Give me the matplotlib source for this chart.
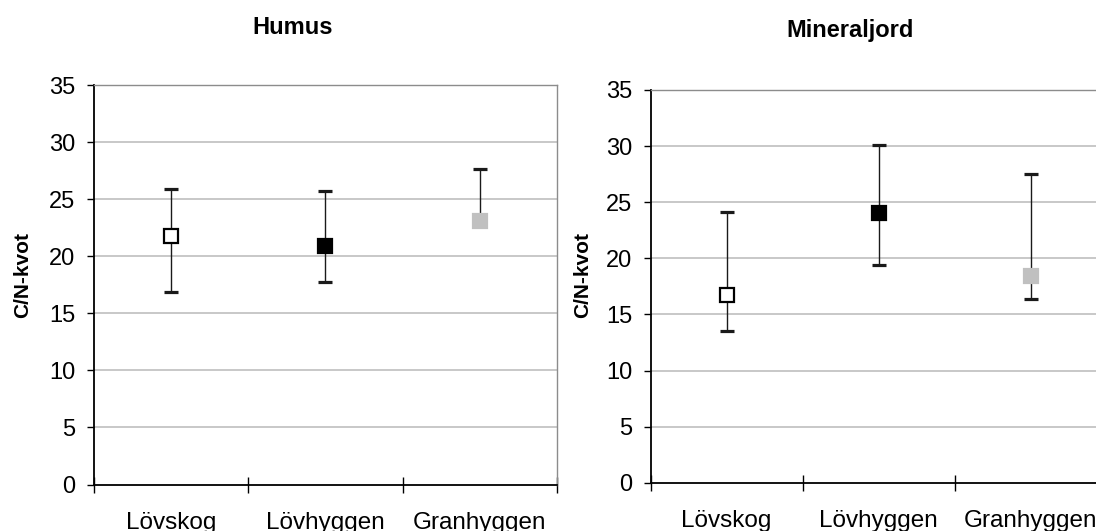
import matplotlib.pyplot as plt
from matplotlib.ticker import FixedLocator, NullFormatter

plt.rcParams["font.family"] = ["Liberation Sans", "DejaVu Sans"]

categories = ["Lövskog", "Lövhyggen", "Granhyggen"]

# C/N-kvot: mean with lower / upper end of the error bar
humus_mean = [21.8, 20.9, 23.1]
humus_low = [16.9, 17.75, 23.1]
humus_high = [25.9, 25.75, 27.6]

mineral_mean = [16.75, 24.05, 18.4]
mineral_low = [13.55, 19.4, 16.4]
mineral_high = [24.1, 30.05, 27.55]

face_colors = ["white", "black", "#c0c0c0"]
edge_colors = ["black", "black", "#c0c0c0"]

W, H = 1096, 531
fig = plt.figure(figsize=(W / 100, H / 100), dpi=100)
fig.patch.set_facecolor("white")


def panel(rect, means, lows, highs):
    ax = fig.add_axes(rect)
    ax.set_xlim(-0.5, 2.5)
    ax.set_ylim(0, 35)
    for i, (m, lo, hi) in enumerate(zip(means, lows, highs)):
        ax.errorbar(i, m, yerr=[[m - lo], [hi - m]], fmt="none",
                    ecolor="#1a1a1a", elinewidth=1.0, capsize=4.7,
                    capthick=2.3, zorder=3)
        ax.plot(i, m, marker="s", markersize=10.5, linestyle="none",
                markerfacecolor=face_colors[i], markeredgecolor=edge_colors[i],
                markeredgewidth=1.6, zorder=4)

    ax.set_yticks(range(0, 36, 5))
    for y in range(5, 35, 5):
        ax.axhline(y, color="#c4c4c4", linewidth=1.3, zorder=1)
    ax.tick_params(axis="y", direction="out", length=5, width=1.0,
                   pad=8, labelsize=17, colors="black")

    # category boundaries as major ticks, names on minor ticks
    ax.xaxis.set_major_locator(FixedLocator([-0.5, 0.5, 1.5, 2.5]))
    ax.xaxis.set_major_formatter(NullFormatter())
    ax.xaxis.set_minor_locator(FixedLocator([0, 1, 2]))
    ax.set_xticklabels(categories, minor=True)
    ax.tick_params(axis="x", which="major", direction="inout", length=11, width=1.0)
    ax.tick_params(axis="x", which="minor", length=0, pad=19.5, labelsize=17.5)

    for side in ("left", "bottom"):
        ax.spines[side].set_color("black")
        ax.spines[side].set_linewidth(1.3)
    for side in ("top", "right"):
        ax.spines[side].set_color("#8c8c8c")
        ax.spines[side].set_linewidth(1.0)
    ax.set_ylabel("C/N-kvot", fontsize=15, fontweight="bold", va="center")
    return ax


ax1 = panel([93.5 / W, 1 - 484.5 / H, 463.5 / W, 399.5 / H],
            humus_mean, humus_low, humus_high)
ax1.yaxis.set_label_coords(-0.153, 0.524)

ax2 = panel([650.6 / W, 1 - 482.9 / H, 456.4 / W, 393 / H],
            mineral_mean, mineral_low, mineral_high)
ax2.yaxis.set_label_coords(-0.149, 0.529)

fig.text(293 / W, 1 - 34 / H, "Humus", ha="center", va="baseline",
         fontsize=17, fontweight="bold")
fig.text(850 / W, 1 - 36.7 / H, "Mineraljord", ha="center", va="baseline",
         fontsize=17, fontweight="bold")

fig.savefig("out.png", dpi=100)
